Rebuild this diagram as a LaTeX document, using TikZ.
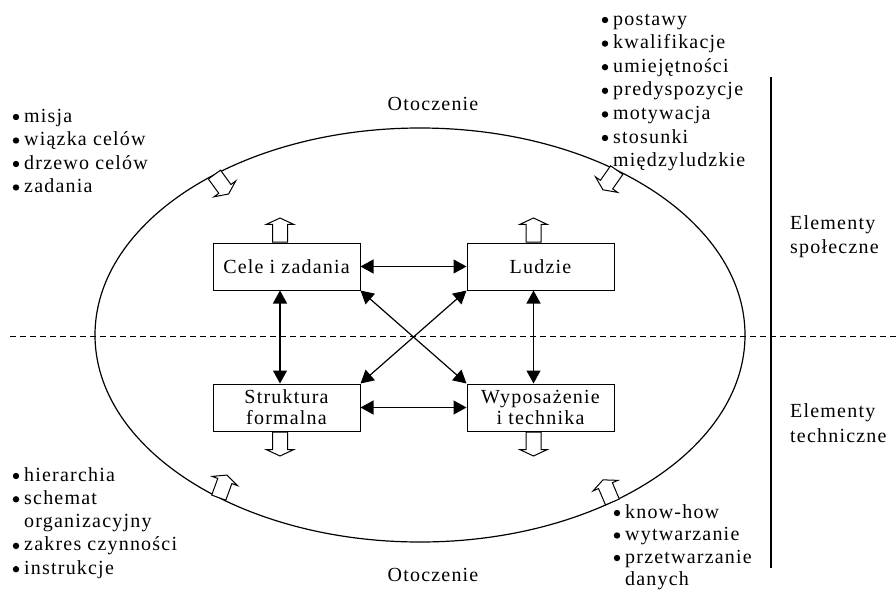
\documentclass[tikz,border=0pt]{standalone}
\usepackage{fontspec}
\setmainfont{Liberation Serif}[LetterSpace=6]
\usetikzlibrary{shapes.geometric, shapes.arrows, arrows.meta, positioning}

\begin{document}
\begin{tikzpicture}[
  x=1pt, y=-1pt,
  txt/.style={font=\fontsize{20}{23.5}\selectfont, inner sep=0pt},
  itm/.style={txt, anchor=base west},
  dot/.style={fill=black},
  box/.style={rectangle, draw, line width=1pt,
    minimum width=147pt, minimum height=47pt, inner sep=0pt,
    align=center, font=\fontsize{20}{21}\selectfont},
  dbl/.style={{Triangle[length=13pt,width=14pt]}-{Triangle[length=13pt,width=14pt]},
    line width=1.2pt},
  hollow/.style={single arrow, draw, line width=1pt, fill=white,
    inner xsep=0pt, inner ysep=7pt, minimum height=24pt,
    single arrow head extend=6pt, single arrow tip angle=130, anchor=tail}
]
  \useasboundingbox (0,0) rectangle (896,589);

  % otoczenie i podzial
  \node[ellipse, draw, line width=1.2pt, minimum width=650pt,
    minimum height=414pt, inner sep=0pt] (env) at (420,335) {};
  \coordinate (dl) at (10,336);
  \coordinate (dr) at (896,336);
  \draw[dash pattern=on 6pt off 4pt, line width=1pt] (dl) -- (dr);
  \coordinate (vt) at (771,77);
  \coordinate (vb) at (771,568);
  \draw[line width=1.2pt] (vt) -- (vb);

  % cztery elementy
  \node[box] (cele) at (286.5,266.5) {Cele i zadania};
  \node[box, right=106pt of cele] (ludzie) {Ludzie};
  \node[box, below=93pt of cele] (struk) {Struktura\\formalna};
  \node[box, right=106pt of struk] (wypos) {Wyposażenie\\i technika};

  \draw[dbl] (cele) -- (ludzie);
  \draw[dbl] (struk) -- (wypos);
  \draw[dbl] ([xshift=-6.5pt]cele.south) -- ([xshift=-6.5pt]struk.north);
  \draw[dbl] ([xshift=-7pt]ludzie.south) -- ([xshift=-7pt]wypos.north);
  \draw[dbl] (cele.south east) -- (wypos.north west);
  \draw[dbl] (ludzie.south west) -- (struk.north east);

  % puste strzalki
  \node[hollow, rotate=90] (hc) at ([xshift=-6.5pt]cele.north) {};
  \node[hollow, rotate=90] (hl) at ([xshift=-7pt]ludzie.north) {};
  \node[hollow, rotate=-90] (hs) at ([xshift=-6.5pt]struk.south) {};
  \node[hollow, rotate=-90] (hw) at ([xshift=-7pt]wypos.south) {};
  \node[hollow, rotate=-54] (htl) at (env.142) {};
  \node[hollow, rotate=-125] (htr) at (env.40) {};
  \node[hollow, rotate=70] (hbl) at (env.219) {};
  \node[hollow, rotate=113] (hbr) at (env.319) {};

  % opisy
  \node[txt, anchor=base] (otop) at (433,110) {Otoczenie};
  \node[txt, anchor=base] (obot) at (433,581) {Otoczenie};
  \node[itm] (spol1) at (790,229) {Elementy};
  \node[itm] (spol2) at (790,253) {społeczne};
  \node[itm] (tech1) at (790,417) {Elementy};
  \node[itm] (tech2) at (790,442) {techniczne};

  % listy (1 = z kropka)
  \foreach \t/\b [count=\i from 0] in {misja/1, wiązka celów/1,
      drzewo celów/1, zadania/1} {
    \node[itm] (cel\i) at (24,{122+23.5*\i}) {\t};
    \ifnum\b=1 \fill[dot] ([xshift=-8pt,yshift=5pt]cel\i.base west) circle (3.2pt); \fi
  }
  \foreach \t/\b [count=\i from 0] in {postawy/1, kwalifikacje/1,
      umiejętności/1, predyspozycje/1, motywacja/1,
      stosunki/1, międzyludzkie/0} {
    \node[itm] (lud\i) at (613,{25+23.6*\i}) {\t};
    \ifnum\b=1 \fill[dot] ([xshift=-8pt,yshift=5pt]lud\i.base west) circle (3.2pt); \fi
  }
  \foreach \t/\b [count=\i from 0] in {hierarchia/1, schemat/1,
      organizacyjny/0, zakres czynności/1, instrukcje/1} {
    \node[itm] (str\i) at (24,{481+23.3*\i}) {\t};
    \ifnum\b=1 \fill[dot] ([xshift=-8pt,yshift=5pt]str\i.base west) circle (3.2pt); \fi
  }
  \foreach \t/\b [count=\i from 0] in {know-how/1, wytwarzanie/1,
      przetwarzanie/1, danych/0} {
    \node[itm] (wyp\i) at (625,{518+22.5*\i}) {\t};
    \ifnum\b=1 \fill[dot] ([xshift=-8pt,yshift=5pt]wyp\i.base west) circle (3.2pt); \fi
  }
\end{tikzpicture}
\end{document}
